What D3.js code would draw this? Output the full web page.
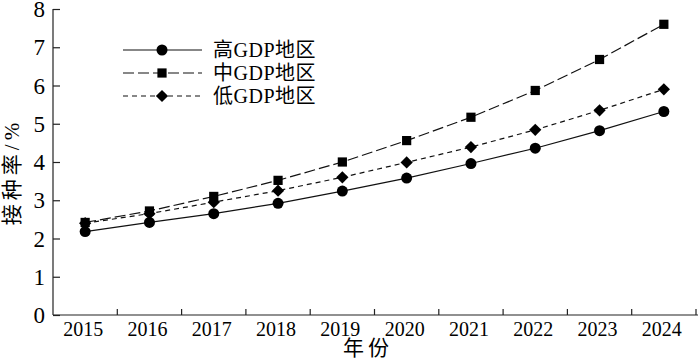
<!DOCTYPE html>
<meta charset="utf-8">
<script src="https://d3js.org/d3.v7.min.js"></script>
<style>
  body { margin: 0; background: #fff; }
  text { font-family: "Liberation Serif", "Noto Sans CJK SC", serif; fill: #000; }
</style>
<div id="my_dataviz"></div>
<script>

// data
var years = ["2015", "2016", "2017", "2018", "2019", "2020", "2021", "2022", "2023", "2024"];
var highGDP = [2.18, 2.42, 2.65, 2.92, 3.24, 3.58, 3.96, 4.36, 4.82, 5.32];
var midGDP  = [2.42, 2.72, 3.10, 3.52, 4.00, 4.56, 5.17, 5.87, 6.68, 7.60];
var lowGDP  = [2.40, 2.65, 2.95, 3.25, 3.60, 3.99, 4.39, 4.84, 5.35, 5.90];
var seriesNames = ["高GDP地区", "中GDP地区", "低GDP地区"];
var yTicks = [0, 1, 2, 3, 4, 5, 6, 7, 8];

var margin = {top: 9, right: 2, bottom: 44, left: 53},
    width = 700 - margin.left - margin.right,
    height = 359 - margin.top - margin.bottom;

var svg = d3.select("#my_dataviz")
  .append("svg")
    .attr("width", 700)
    .attr("height", 359)
  .append("g")
    .attr("transform", "translate(" + margin.left + "," + margin.top + ")");

var x = d3.scaleBand()
  .domain(years)
  .range([0, width - 2]);

var y = d3.scaleLinear()
  .domain([0, 8])
  .range([height, 0]);

// x axis: ticks on band edges, pointing inward
var xAxis = svg.append("g")
  .attr("transform", "translate(0," + height + ")");
xAxis.append("line")
  .attr("x1", 0).attr("x2", width)
  .attr("stroke", "#222").attr("stroke-width", 1.2);
xAxis.selectAll(".edge")
  .data(years.slice(1).concat(["end"]))
  .enter().append("line")
    .attr("x1", function(d, i) { return x(years[0]) + (i + 1) * x.step(); })
    .attr("x2", function(d, i) { return x(years[0]) + (i + 1) * x.step(); })
    .attr("y1", 0).attr("y2", -6)
    .attr("stroke", "#222").attr("stroke-width", 1.2);
xAxis.selectAll(".lab")
  .data(years)
  .enter().append("text")
    .attr("x", function(d) { return x(d) + x.bandwidth() / 2 - 2; })
    .attr("y", 21)
    .attr("text-anchor", "middle")
    .style("font-size", "20px")
    .text(function(d) { return d; });

// y axis: ticks pointing inward
var yAxis = svg.append("g")
  .call(d3.axisRight(y).tickValues(yTicks).tickSize(7).tickFormat(""));
yAxis.select(".domain").attr("stroke", "#222").attr("stroke-width", 1.2).attr("d", "M0," + height + "V0");
yAxis.selectAll(".tick line").attr("stroke", "#222").attr("stroke-width", 1.2);
svg.selectAll(".ylab")
  .data(yTicks)
  .enter().append("text")
    .attr("x", -8)
    .attr("y", function(d) { return y(d) + 8; })
    .attr("text-anchor", "end")
    .style("font-size", "23px")
    .text(function(d) { return d; });

// axis titles
svg.append("text")
  .attr("x", 368 - margin.left)
  .attr("y", height + 40)
  .attr("text-anchor", "middle")
  .style("font-size", "21px")
  .style("letter-spacing", "4px")
  .text("年份");
svg.append("text")
  .attr("transform", "translate(-34," + (y(4) + 10) + ") rotate(-90)")
  .attr("text-anchor", "middle")
  .style("font-size", "21px")
  .style("letter-spacing", "4px")
  .text("接种率/%");

var diamond = {
  draw: function(context, size) {
    var r = Math.sqrt(size / 2);
    context.moveTo(0, -r);
    context.lineTo(r, 0);
    context.lineTo(0, r);
    context.lineTo(-r, 0);
    context.closePath();
  }
};

var series = [
  {name: seriesNames[0], values: highGDP, dash: null, symbol: d3.symbolCircle, size: 95},
  {name: seriesNames[1], values: midGDP, dash: "11,4", symbol: d3.symbolSquare, size: 85},
  {name: seriesNames[2], values: lowGDP, dash: "5,4", symbol: diamond, size: 75}
];

var line = d3.line()
  .x(function(d, i) { return x(years[i]) + x.bandwidth() / 2; })
  .y(function(d) { return y(d); });

series.forEach(function(s) {
  svg.append("path")
    .datum(s.values)
    .attr("fill", "none")
    .attr("stroke", "#111")
    .attr("stroke-width", 1.2)
    .attr("stroke-dasharray", s.dash)
    .attr("d", line);
  svg.selectAll(null)
    .data(s.values)
    .enter().append("path")
      .attr("d", d3.symbol().type(s.symbol).size(s.size))
      .attr("transform", function(d, i) {
        return "translate(" + (x(years[i]) + x.bandwidth() / 2) + "," + y(d) + ")";
      })
      .attr("fill", "#000");
});

// legend
var legend = svg.append("g")
  .attr("transform", "translate(" + (123 - margin.left) + "," + (50 - margin.top) + ")");
series.forEach(function(s, i) {
  var g = legend.append("g").attr("transform", "translate(0," + (i * 23) + ")");
  g.append("line")
    .attr("x1", 0).attr("x2", 79)
    .attr("stroke", "#111").attr("stroke-width", 1.2)
    .attr("stroke-dasharray", s.dash);
  g.append("path")
    .attr("d", d3.symbol().type(s.symbol).size(s.size))
    .attr("transform", "translate(39,0)")
    .attr("fill", "#000");
  g.append("text")
    .attr("x", 90)
    .attr("y", 7)
    .style("font-size", "20px")
    .style("letter-spacing", "0.5px")
    .text(s.name);
});

</script>
